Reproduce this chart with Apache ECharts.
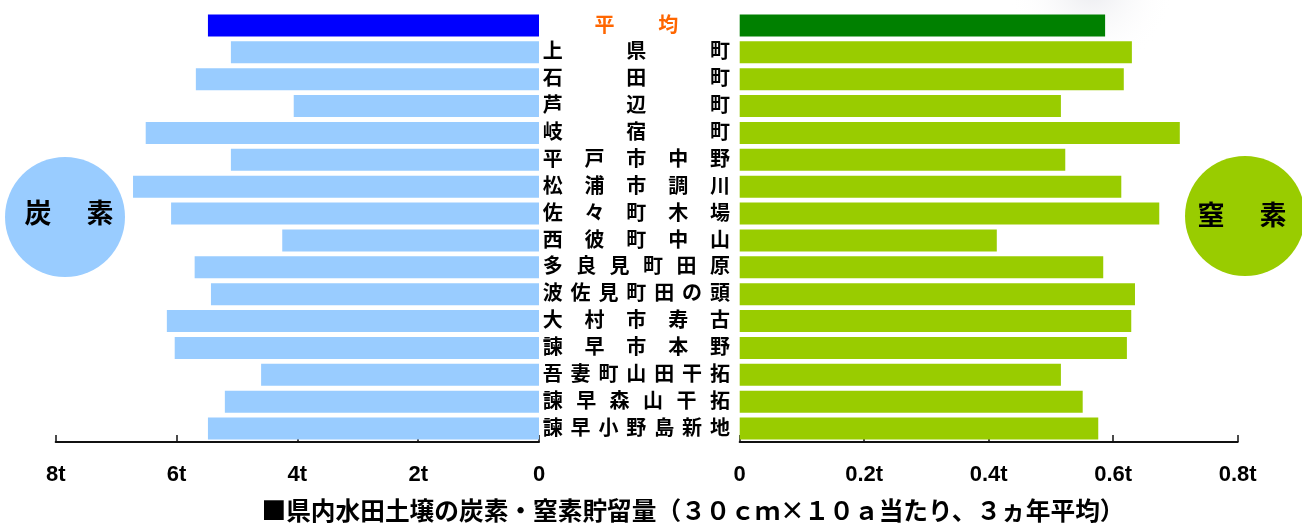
<!DOCTYPE html>
<html>
<head>
<meta charset="utf-8">
<script src="https://cdn.jsdelivr.net/npm/echarts@6/dist/echarts.min.js"></script>
<style>
html,body{margin:0;padding:0;background:#fff;}
#chart{width:1302px;height:523px;}
</style>
</head>
<body>
<div id="chart"></div>
<script>
// ---- data ----
var categories = ['平均','上県町','石田町','芦辺町','岐宿町','平戸市中野','松浦市調川','佐々町木場','西彼町中山','多良見町田原','波佐見町田の頭','大村市寿古','諫早市本野','吾妻町山田干拓','諫早森山干拓','諫早小野島新地'];
var carbon = [5.48, 5.10, 5.68, 4.06, 6.51, 5.10, 6.72, 6.09, 4.25, 5.70, 5.43, 6.16, 6.03, 4.60, 5.20, 5.48];
var nitrogen = [0.587, 0.630, 0.617, 0.516, 0.707, 0.523, 0.613, 0.674, 0.413, 0.584, 0.635, 0.629, 0.622, 0.516, 0.551, 0.576];
var carbonTicks = ['0','2t','4t','6t','8t'];
var nitrogenTicks = ['0','0.2t','0.4t','0.6t','0.8t'];
var titleText = '■県内水田土壌の炭素・窒素貯留量（３０ｃｍ×１０ａ当たり、３ヵ年平均）';

var CJK = '"Noto Sans CJK JP","Noto Sans CJK SC",sans-serif';
var chart = echarts.init(document.getElementById('chart'), null, {renderer:'canvas'});

var carbonData = carbon.map(function(v,i){
  return {value:v, itemStyle:{color: i===0 ? '#0000ff' : '#99ccff'}};
});
var nitrogenData = nitrogen.map(function(v,i){
  return {value:v, itemStyle:{color: i===0 ? '#008000' : '#99cc00'}};
});

function makeAxis(extra, labels, step){
  var ax = {
    type:'value',
    axisLine:{show:true, lineStyle:{color:'#111', width:2}},
    axisTick:{show:true, inside:true, length:7, lineStyle:{color:'#111', width:1.5}},
    splitLine:{show:false},
    axisLabel:{margin:22, color:'#000', fontSize:22, fontWeight:'bold',
      fontFamily:'"Liberation Sans",Arial,sans-serif',
      formatter:function(v){return '{t|' + labels[Math.round(v/step)] + '}';},
      rich:{t:{fontSize:22, fontWeight:'bold', color:'#000', fontFamily:'"Liberation Sans",Arial,sans-serif'}}}
  };
  for (var k in extra) ax[k] = extra[k];
  return ax;
}

var option = {
  animation:false,
  backgroundColor:'#ffffff',
  grid:[
    {left:55.7, right:763, top:12, height:430},
    {left:739.7, right:64.3, top:12, height:430},
    {left:552.7, right:582, top:12, height:430}
  ],
  xAxis:[
    makeAxis({gridIndex:0, inverse:true, min:0, max:8, interval:2}, carbonTicks, 2),
    makeAxis({gridIndex:1, min:0, max:0.8, interval:0.2}, nitrogenTicks, 0.2),
    {gridIndex:2, type:'value', min:0, max:1, show:false}
  ],
  yAxis:[
    {gridIndex:0, type:'category', data:categories, inverse:true, show:false},
    {gridIndex:1, type:'category', data:categories, inverse:true, show:false},
    {gridIndex:2, type:'category', data:categories, inverse:true, show:false}
  ],
  series:[
    {type:'bar', xAxisIndex:0, yAxisIndex:0, data:carbonData, barWidth:22},
    {type:'bar', xAxisIndex:1, yAxisIndex:1, data:nitrogenData, barWidth:22},
    {type:'custom', xAxisIndex:2, yAxisIndex:2,
      data:categories.map(function(c,i){return [0.5,i];}),
      renderItem:function(params, api){
        var idx = params.dataIndex;
        var chars = categories[idx].split('');
        var n = chars.length;
        var children = [];
        for (var i=0;i<n;i++){
          var fx = n===2 ? (i===0 ? 0.31 : 0.69) : i/(n-1);
          var p = api.coord([fx, idx]);
          children.push({type:'text', x:p[0], y:p[1]-1.5,
            style:{text:chars[i], align:'center', verticalAlign:'middle',
              fontSize:20, fontWeight:'bold', fontFamily:CJK,
              fill: idx===0 ? '#ff6600' : '#000'}});
        }
        return {type:'group', children:children};
      }
    }
  ],
  graphic:[
    {type:'rect', silent:true, z:-10, shape:{x:700,y:0,width:602,height:140},
      style:{fill:{type:'radial', x:0.65, y:-0.1, r:0.6,
        colorStops:[{offset:0,color:'rgba(225,226,232,0.7)'},{offset:1,color:'rgba(255,255,255,0)'}]}}},
    {type:'circle', shape:{cx:65, cy:217, r:60}, style:{fill:'#99ccff'}, z:1},
    {type:'text', x:38, y:213, style:{text:'炭', align:'center', verticalAlign:'middle', fontSize:27, fontWeight:'bold', fontFamily:CJK, fill:'#000'}, z:2},
    {type:'text', x:100, y:213, style:{text:'素', align:'center', verticalAlign:'middle', fontSize:27, fontWeight:'bold', fontFamily:CJK, fill:'#000'}, z:2},
    {type:'circle', shape:{cx:1245, cy:216, r:60}, style:{fill:'#99cc00'}, z:1},
    {type:'text', x:1211, y:215, style:{text:'窒', align:'center', verticalAlign:'middle', fontSize:27, fontWeight:'bold', fontFamily:CJK, fill:'#000'}, z:2},
    {type:'text', x:1273, y:215, style:{text:'素', align:'center', verticalAlign:'middle', fontSize:27, fontWeight:'bold', fontFamily:CJK, fill:'#000'}, z:2},
    {type:'text', x:693, y:511, style:{text:titleText, align:'center', verticalAlign:'middle', fontSize:24.7, fontWeight:'bold', fontFamily:CJK, fill:'#000'}, z:2}
  ]
};
chart.setOption(option);
</script>
</body>
</html>
